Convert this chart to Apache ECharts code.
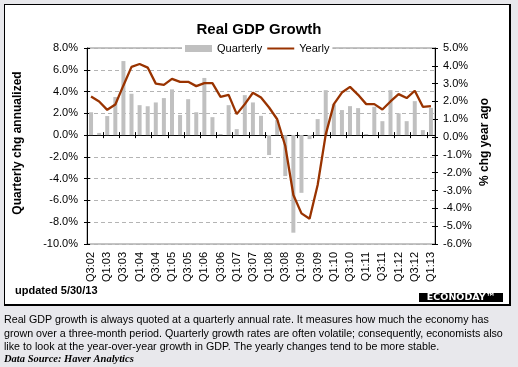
<!DOCTYPE html>
<html><head><meta charset="utf-8">
<script src="https://cdn.jsdelivr.net/npm/echarts@6/dist/echarts.min.js"></script>
<style>html,body{margin:0;padding:0;background:#e8e8ec}#c{width:518px;height:367px}</style>
</head><body><div id="c"></div>
<script>
const categories = ['Q3:02','Q4:02','Q1:03','Q2:03','Q3:03','Q4:03','Q1:04','Q2:04','Q3:04','Q4:04',
  'Q1:05','Q2:05','Q3:05','Q4:05','Q1:06','Q2:06','Q3:06','Q4:06','Q1:07','Q2:07','Q3:07','Q4:07',
  'Q1:08','Q2:08','Q3:08','Q4:08','Q1:09','Q2:09','Q3:09','Q4:09','Q1:10','Q2:10','Q3:10','Q4:10',
  'Q1:11','Q2:11','Q3:11','Q4:11','Q1:12','Q2:12','Q3:12','Q4:12','Q1:13'];
const quarterly = [2.1,0.2,1.75,3.5,6.8,3.8,2.75,2.65,3.0,3.4,
  4.2,1.85,3.3,2.1,5.25,1.65,0.1,2.75,0.55,3.67,3.0,1.77,
  -1.83,1.38,-3.76,-8.96,-5.3,-0.37,1.47,4.13,2.84,2.3,2.66,2.48,
  0.1,2.6,1.28,4.13,2.0,1.28,3.12,0.46,2.5];
const yearly = [2.28,2.0,1.53,1.83,2.9,3.94,4.1,3.9,3.0,2.93,
  3.27,3.1,3.1,2.86,3.03,3.03,2.26,2.37,1.29,1.85,2.49,2.22,
  1.66,1.0,-0.5,-3.25,-4.28,-4.58,-2.69,0.15,1.85,2.5,2.82,2.37,
  1.85,1.85,1.55,2.0,2.41,2.19,2.6,1.7,1.74];
const leftAxis = {min:-10, max:8, step:2};
const rightAxis = {min:-6, max:5, step:1};
const captionLines = [
  'Real GDP growth is always quoted at a quarterly annual rate. It measures how much the economy has',
  'grown over a three-month period. Quarterly growth rates are often volatile; consequently, economists also',
  'like to look at the year-over-year growth in GDP. The yearly changes tend to be more stable.'
];

const F = '"Liberation Sans", Arial, sans-serif';
const pct = v => v.toFixed(1) + '%';
const chart = echarts.init(document.getElementById('c'));
const grid = {left:87, right:83, top:48, height:196};

function yAx(cfg, pos, inside, main) {
  return {
    type:'value', min:cfg.min, max:cfg.max, interval:cfg.step, position:pos,
    axisLine:{show:main, onZero:false, lineStyle:{color:'#000', width:1}},
    axisTick:{show:true, inside:inside, length:3, lineStyle:{color:'#000'}},
    axisLabel:{show:main, formatter:pct, margin:pos==='left'?9:8, fontFamily:F, fontSize:11, color:'#000'},
    splitLine:{show:false}
  };
}
const yAxes = [yAx(leftAxis,'left',false,true), yAx(rightAxis,'right',false,true),
               yAx(leftAxis,'left',true,false), yAx(rightAxis,'right',true,false)];
yAxes[0].splitLine = {show:true, lineStyle:{color:'#b4b4b4', type:[4,3], width:1}};

function xAx(inside, labels) {
  return {
    type:'category', data:categories, position:'bottom', boundaryGap:true,
    axisLine:{show:!labels, onZero:!labels, onZeroAxisIndex:0, lineStyle:{color:'#000', width:1}},
    axisTick:{show:!labels, inside:inside, interval:1, length:3, lineStyle:{color:'#000'}},
    axisLabel:{show:labels, interval:1, rotate:90, margin:8, fontFamily:F, fontSize:11, color:'#000'},
    splitLine:{show:false}
  };
}

const capFont = '10.7px ' + F;
const option = {
  backgroundColor:'#e8e8ec',
  animation:false,
  title:{text:'Real GDP Growth', left:'center', top:17,
    textStyle:{fontFamily:F, fontSize:15, fontWeight:'bold', color:'#000'}},
  legend:{left:182, top:42, itemWidth:27, itemHeight:7, itemGap:4, padding:[1,3],
    backgroundColor:'#fff', textStyle:{fontFamily:F, fontSize:11, color:'#000'},
    data:[{name:'Quarterly', icon:'rect'}, {name:'Yearly', itemStyle:{opacity:0}}]},
  grid:Object.assign({show:true, borderColor:'#888', borderWidth:1, backgroundColor:'transparent'}, grid),
  xAxis:[xAx(false,false), xAx(true,false), xAx(false,true)],
  yAxis:yAxes,
  series:[
    {name:'Quarterly', type:'bar', xAxisIndex:0, yAxisIndex:0, data:quarterly, barWidth:4,
      itemStyle:{color:'#c0c0c0'}},
    {name:'Yearly', type:'line', xAxisIndex:0, yAxisIndex:1, data:yearly, symbol:'none',
      lineStyle:{color:'#993300', width:2.3}, itemStyle:{color:'#993300'}}
  ],
  graphic:[
    {type:'rect', z:-10, shape:{x:4, y:4, width:507, height:302}, style:{fill:'#000'}},
    {type:'rect', z:-9, shape:{x:5, y:5, width:504, height:299}, style:{fill:'#fff'}},
    {type:'text', x:18, y:143, rotation:Math.PI/2,
      style:{text:'Quarterly chg annualized', font:'bold 12px '+F, fill:'#000', align:'center', verticalAlign:'middle'}},
    {type:'text', x:485, y:142, rotation:Math.PI/2,
      style:{text:'% chg year ago', font:'bold 12px '+F, fill:'#000', align:'center', verticalAlign:'middle'}},
    {type:'text', x:15, y:291,
      style:{text:'updated 5/30/13', font:'bold 11px '+F, fill:'#000', verticalAlign:'middle'}},
    {type:'rect', shape:{x:419, y:293, width:84, height:9}, style:{fill:'#000'}},
    {type:'text', x:461, y:297.5,
      style:{text:'ECONODAY™', font:'bold 9.5px "DejaVu Sans", sans-serif', fill:'#fff', align:'center', verticalAlign:'middle'}},
    {type:'text', x:4, y:320.5, style:{text:captionLines[0], font:capFont, fill:'#000', verticalAlign:'middle'}},
    {type:'text', x:4, y:334, style:{text:captionLines[1], font:capFont, fill:'#000', verticalAlign:'middle'}},
    {type:'text', x:4, y:347.3, style:{text:captionLines[2], font:capFont, fill:'#000', verticalAlign:'middle'}},
    {type:'text', x:4, y:359.5, style:{text:'Data Source: Haver Analytics', font:'italic bold 10.5px "Liberation Serif", "Times New Roman", serif', fill:'#000', verticalAlign:'middle'}}
  ]
};
chart.setOption(option);
</script></body></html>
